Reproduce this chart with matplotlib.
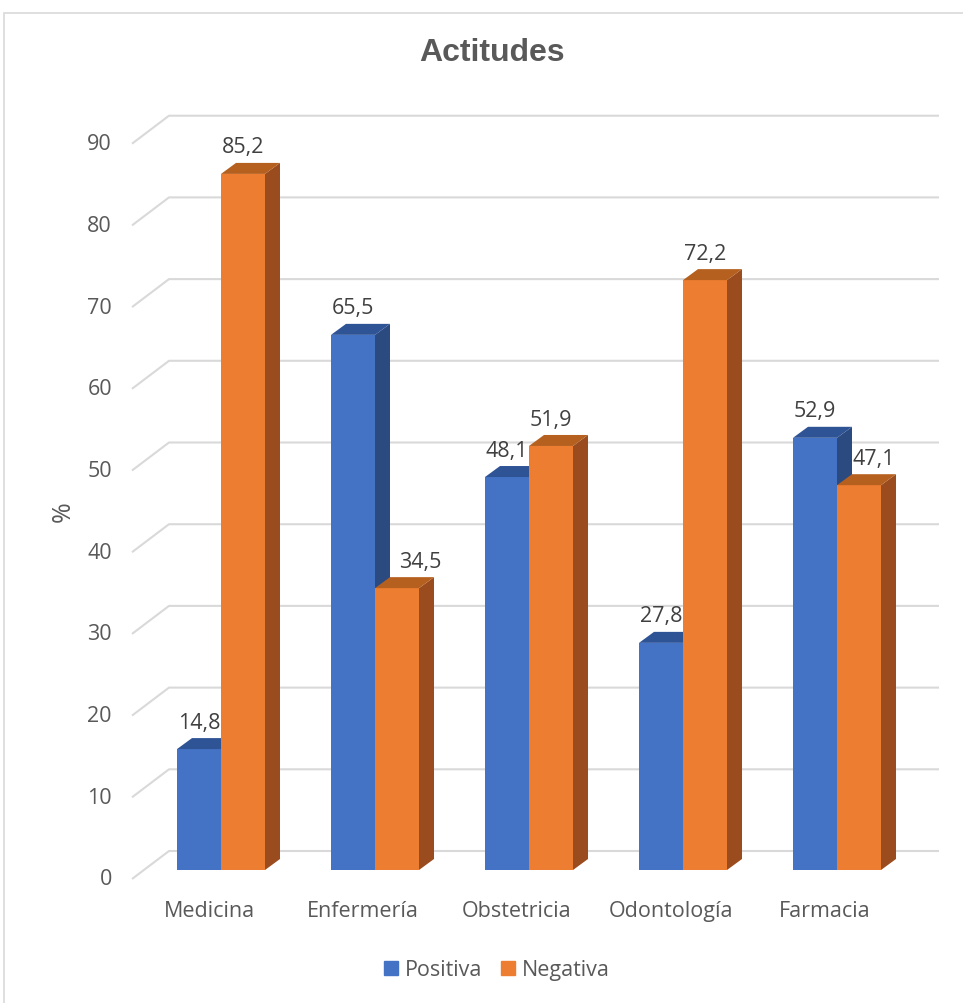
import matplotlib
matplotlib.use("Agg")
import matplotlib.pyplot as plt
from matplotlib.patches import Polygon, Rectangle, Patch

categories = ["Medicina", "Enfermería", "Obstetricia", "Odontología", "Farmacia"]
positiva = [14.8, 65.5, 48.1, 27.8, 52.9]
negativa = [85.2, 34.5, 51.9, 72.2, 47.1]
yticks = [0, 10, 20, 30, 40, 50, 60, 70, 80, 90]

BLUE = ("#4472C4", "#2E5496", "#2B4A80")   # front, top, side
ORANGE = ("#ED7D31", "#B5601F", "#9A4C1E")
GRID = "#D9D9D9"
TXT = "#595959"
FS = 15.5

W, H = 963, 1004
PX_X, PX_Y = 154.0, 8.17      # pixels per category / per unit
X0, Y0 = 221, 871             # pixel position of category 0, value 0

plt.rcParams["font.family"] = ["Open Sans", "DejaVu Sans"]

fig = plt.figure(figsize=(W / 100, H / 100), dpi=100)
ax = fig.add_axes([0, 0, 1, 1])
ax.set_xlim(-X0 / PX_X, (W - X0) / PX_X)
ax.set_ylim(-(H - Y0) / PX_Y, Y0 / PX_Y)
ax.axis("off")

bw = 44 / PX_X                 # bar width
ddx, ddy = 15 / PX_X, 11 / PX_Y  # bar depth
bx, by = 25 / PX_X, 19 / PX_Y    # back wall offset
fx, fy = -12 / PX_X, -9 / PX_Y   # floor front offset
xl, xr = -0.5, 4.5

# gridlines (front diagonal + back wall)
for v in yticks:
    ax.plot([xl + fx, xl + bx, xr + bx], [v + fy, v + by, v + by],
            color=GRID, lw=1.5, zorder=1, solid_capstyle="butt")
    ax.text(xl + fx - 0.13, v + fy, str(v), ha="right", va="center",
            fontsize=FS, color=TXT)


def bar3d(x, val, cols, shift=0.0):
    ax.bar(x, val, width=bw, align="edge", color=cols[0], zorder=3)
    ax.add_patch(Polygon([(x + bw, 0), (x + bw + ddx, ddy), (x + bw + ddx, val + ddy),
                          (x + bw, val)], closed=True, color=cols[2], lw=0, zorder=3))
    ax.add_patch(Polygon([(x, val), (x + ddx, val + ddy), (x + bw + ddx, val + ddy),
                          (x + bw, val)], closed=True, color=cols[1], lw=0, zorder=3))
    ax.text(x + bw / 2 + shift, val + 3.3, f"{val:.1f}".replace(".", ","), ha="center",
            va="center", fontsize=FS, color="#404040", zorder=5)


# labels nudged right where the taller neighbour would hide them
neg_shift = [0, 23 / PX_X, 0, 0, 15 / PX_X]

for i, cat in enumerate(categories):
    bar3d(i - bw, positiva[i], BLUE)
    bar3d(i, negativa[i], ORANGE, neg_shift[i])
    ax.text(i + fx, -4.9, cat, ha="center", va="center", fontsize=FS, color=TXT)

fig.text(492 / W, 1 - 53 / H, "Actitudes", ha="center", va="center", fontsize=23,
         fontweight="bold", color=TXT, family="Liberation Sans")
fig.text(63 / W, 1 - 512 / H, "%", ha="center", va="center", rotation=90,
         fontsize=18, color=TXT)

fig.patches.append(Rectangle((4 / W, -0.01), 1.0, 1 - 14 / H + 0.01, transform=fig.transFigure,
                             fill=False, ec="#D9D9D9", lw=1.2))

handles = [Patch(color=BLUE[0], label="Positiva"), Patch(color=ORANGE[0], label="Negativa")]
fig.legend(handles=handles, loc="center", bbox_to_anchor=(497 / W, 1 - 971 / H), ncol=2,
           frameon=False, fontsize=FS, handlelength=0.65, handleheight=0.65,
           handletextpad=0.3, columnspacing=0.9, labelcolor=TXT)

fig.savefig("out.png", dpi=100)
